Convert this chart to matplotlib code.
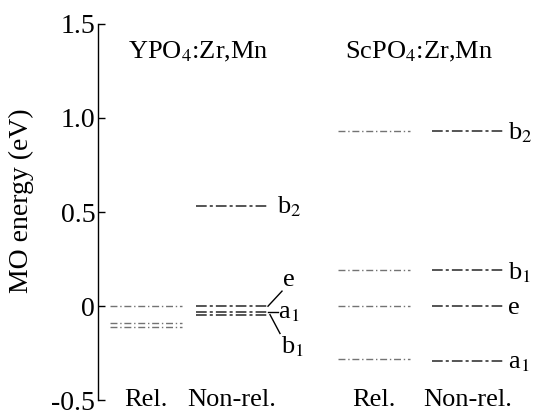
import numpy as np
import matplotlib.pyplot as plt

plt.rcParams['font.family'] = ['Liberation Serif', 'DejaVu Serif']
plt.rcParams['mathtext.fontset'] = 'stix'

# MO energy levels (eV)
ypo_rel = [0.0, -0.09, -0.11]
ypo_nonrel = [0.53, 0.0, -0.03, -0.045]
ypo_nonrel_labels = ['b$_2$', 'e', 'a$_1$', 'b$_1$']
sc_rel = [0.93, 0.19, 0.0, -0.28]
sc_nonrel = [0.93, 0.19, 0.0, -0.29]
sc_labels = ['b$_2$', 'b$_1$', 'e', 'a$_1$']

titles = ['YPO$_4$:Zr,Mn', 'ScPO$_4$:Zr,Mn']
col_labels = ['Rel.', 'Non-rel.', 'Rel.', 'Non-rel.']
yticks = [-0.5, 0, 0.5, 1.0, 1.5]
ytick_labels = ['-0.5', '0', '0.5', '1.0', '1.5']

# column centres in axis units (1 unit ~ 100 px)
centres = [0.48, 1.34, 2.76, 3.70]
hw = 0.36
fs = 19

fig = plt.figure(figsize=(5.4, 4.17), dpi=100)
ax = fig.add_axes([0.1815, 0.04, 0.8185, 0.903])
ax.set_xlim(0, 4.42)
ax.set_ylim(-0.5, 1.5)

for s in ['top', 'right', 'bottom']:
    ax.spines[s].set_visible(False)
ax.spines['left'].set_linewidth(1.0)
ax.set_xticks([])
ax.set_yticks(yticks)
ax.set_yticklabels(ytick_labels)
ax.tick_params(axis='y', direction='in', length=5, width=1, labelsize=20, pad=2)
ax.set_ylabel('MO energy (eV)', fontsize=20)
ax.yaxis.set_label_coords(-0.145, 0.53)

rel_style = dict(color='0.45', lw=1.0, ls=(0, (5, 2, 1, 2)))
nonrel_style = dict(color='0.15', lw=1.1, ls=(0, (7, 2, 2, 2)))

def level(x0, y, style):
    ax.plot([x0 - hw, x0 + hw], [y, y], **style)

for y in ypo_rel:
    level(centres[0], y, rel_style)
for y in ypo_nonrel:
    level(centres[1], y, nonrel_style)
for y in sc_rel:
    level(centres[2], y, rel_style)
for y in sc_nonrel:
    level(centres[3], y, nonrel_style)

# YPO4 labels
xe = centres[1] + hw
ax.text(xe + 0.09, ypo_nonrel[0], ypo_nonrel_labels[0], fontsize=fs, va='center', ha='left')
ax.plot([xe, xe + 0.14], [ypo_nonrel[1], ypo_nonrel[1] + 0.08], color='k', lw=1)
ax.text(xe + 0.15, ypo_nonrel[1] + 0.14, ypo_nonrel_labels[1], fontsize=fs, va='center', ha='left')
ax.plot([xe, xe + 0.1], [ypo_nonrel[2], ypo_nonrel[2]], color='k', lw=1)
ax.text(xe + 0.1, ypo_nonrel[2] - 0.005, ypo_nonrel_labels[2], fontsize=fs, va='center', ha='left')
ax.plot([xe + 0.02, xe + 0.12], [ypo_nonrel[3], ypo_nonrel[3] - 0.1], color='k', lw=1)
ax.text(xe + 0.13, ypo_nonrel[3] - 0.17, ypo_nonrel_labels[3], fontsize=fs, va='center', ha='left')

# ScPO4 labels
for y, lab in zip(sc_nonrel, sc_labels):
    ax.text(centres[3] + hw + 0.04, y - 0.01, lab, fontsize=fs, va='center', ha='left')

ax.text(1.0, 1.35, titles[0], fontsize=fs, ha='center', va='center')
ax.text(3.21, 1.35, titles[1], fontsize=fs, ha='center', va='center')

for x, lab in zip(centres, col_labels):
    ax.text(x, -0.5, lab, fontsize=fs, ha='center', va='center', clip_on=False)

fig.savefig('out.png', dpi=100)
